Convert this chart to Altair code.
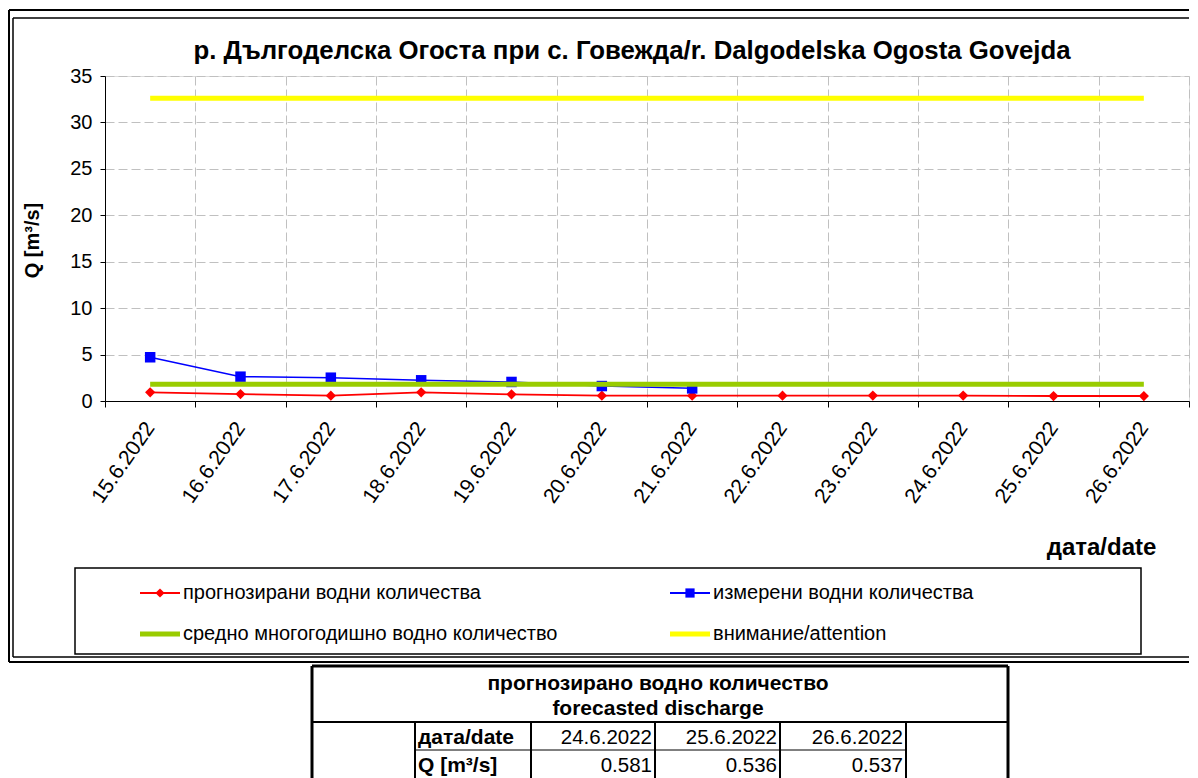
import altair as alt
import pandas as pd

# ---------------- data ----------------
dates = ["15.6.2022", "16.6.2022", "17.6.2022", "18.6.2022", "19.6.2022", "20.6.2022",
         "21.6.2022", "22.6.2022", "23.6.2022", "24.6.2022", "25.6.2022", "26.6.2022"]
forecast = [0.93, 0.75, 0.57, 0.93, 0.72, 0.57, 0.57, 0.57, 0.58, 0.581, 0.536, 0.537]
measured = [4.71, 2.62, 2.51, 2.23, 2.05, 1.61, 1.36]
mean_q = 1.8
attention_q = 32.6

series = ["прогнозирани водни количества", "измерени водни количества",
          "средно многогодишно водно количество", "внимание/attention"]
colors = ["#ff0000", "#0000ff", "#99cc00", "#ffff00"]

title_text = "р. Дългоделска Огоста при с. Говежда/r. Dalgodelska Ogosta Govejda"
table_header = ["прогнозирано водно количество", "forecasted discharge"]
table_row_labels = ["дата/date", "Q [m³/s]"]
table_dates = dates[-3:]
table_values = forecast[-3:]

FONT = "Liberation Sans"
W, H = 1084, 325
RIGHT = 1084

# ---------------- main plot ----------------
df_f = pd.DataFrame({"date": dates, "value": forecast, "series": series[0]})
df_m = pd.DataFrame({"date": dates[:len(measured)], "value": measured, "series": series[1]})
df_c = pd.DataFrame({
    "date": [dates[0], dates[-1], dates[0], dates[-1]],
    "value": [mean_q, mean_q, attention_q, attention_q],
    "series": [series[2], series[2], series[3], series[3]],
})

x_enc = alt.X(
    "date:O", sort=dates, title="дата/date",
    scale=alt.Scale(type="band", domain=dates, paddingInner=0, paddingOuter=0),
    axis=alt.Axis(
        tickBand="extent", grid=True, gridDash=[9, 4], gridColor="#c0c0c0", gridWidth=1,
        domainColor="black", domainWidth=1, tickColor="black", tickSize=6,
        labelAngle=305, labelAlign="right", labelBaseline="middle", labelPadding=17,
        labelFontSize=21, labelColor="black", labelFont=FONT, labelOverlap=False,
        titleX=996, titleY=146, titleAlign="center", titleBaseline="middle",
        titleFontSize=24, titleFontWeight="bold", titleColor="black", titleFont=FONT,
    ),
)
y_enc = alt.Y(
    "value:Q", title="Q [m³/s]",
    scale=alt.Scale(domain=[0, 35], nice=False, zero=True),
    axis=alt.Axis(
        values=list(range(0, 36, 5)), grid=True, gridDash=[9, 4], gridColor="#c0c0c0",
        domainColor="black", tickColor="black", tickSize=5,
        labelFontSize=20, labelColor="black", labelPadding=8, labelFont=FONT,
        titleX=-73, titleY=164, titleAngle=270, titleAlign="center", titleBaseline="middle",
        titleFontSize=20, titleFontWeight="bold", titleColor="black", titleFont=FONT,
    ),
)
color_enc = alt.Color("series:N", scale=alt.Scale(domain=series, range=colors), legend=None)

red_line = alt.Chart(df_f).mark_line(strokeWidth=1.8).encode(x=x_enc, y=y_enc, color=color_enc)
red_pts = alt.Chart(df_f).mark_point(shape="diamond", filled=True, size=105, opacity=1).encode(
    x=x_enc, y=y_enc, color=color_enc)
blue_line = alt.Chart(df_m).mark_line(strokeWidth=1.5).encode(x=x_enc, y=y_enc, color=color_enc)
blue_pts = alt.Chart(df_m).mark_point(shape="square", filled=True, size=110, opacity=1).encode(
    x=x_enc, y=y_enc, color=color_enc)
const_lines = alt.Chart(df_c).mark_line(strokeWidth=5).encode(
    x=x_enc, y=y_enc, color=color_enc, detail="series:N")

main = alt.layer(red_line, red_pts, blue_line, blue_pts, const_lines)

# ---------------- legend (own scales) ----------------
leg_df = pd.DataFrame({"series": series, "col": [0, 1, 0, 1], "row": [0, 0, 1, 1]})
lx = alt.X("col:Q", scale=alt.Scale(domain=[0, 1], range=[35, 565]), axis=None)
ly = alt.Y("row:Q", scale=alt.Scale(domain=[0, 1], range=[517, 558]), axis=None)
leg_thin = alt.Chart(leg_df.iloc[:2]).mark_rule(x2Offset=40, strokeWidth=1.8).encode(
    x=lx, x2=alt.X2("col"), y=ly, color=color_enc)
leg_thick = alt.Chart(leg_df.iloc[2:]).mark_rule(x2Offset=40, strokeWidth=5).encode(
    x=lx, x2=alt.X2("col"), y=ly, color=color_enc)
leg_pts = alt.Chart(leg_df.iloc[:2]).mark_point(filled=True, opacity=1, xOffset=20, size=85).encode(
    x=lx, y=ly, color=color_enc,
    shape=alt.Shape("series:N", scale=alt.Scale(domain=series[:2], range=["diamond", "square"]),
                    legend=None))
leg_text = alt.Chart(leg_df).mark_text(align="left", baseline="middle", dx=43, fontSize=20,
                                       font=FONT, color="black").encode(x=lx, y=ly, text="series:N")
one = pd.DataFrame({"k": [0]})
leg_box = alt.Chart(one).mark_rect(fill=None, stroke="black", strokeWidth=1.5).encode(
    x=alt.value(-30), x2=alt.value(1036), y=alt.value(492), y2=alt.value(578))
legend = alt.layer(leg_box, leg_thin, leg_thick, leg_pts, leg_text)

# ---------------- table (own scales) ----------------
tx_scale = alt.Scale(domain=[0, 1, 2, 3, 4, 5, 6], range=[207, 310, 426, 550, 675, 801, 903])
ty_scale = alt.Scale(domain=[0, 4], range=[590, 702])

def tbl_rules(segs, width):
    d = pd.DataFrame(segs, columns=["c1", "c2", "r1", "r2"])
    return alt.Chart(d).mark_rule(color="black", strokeWidth=width).encode(
        x=alt.X("c1:Q", scale=tx_scale, axis=None), x2="c2",
        y=alt.Y("r1:Q", scale=ty_scale, axis=None), y2="r2")

t_thick = tbl_rules([[0, 6, 0, 0], [0, 0, 0, 4], [6, 6, 0, 4]], 3)
t_med = tbl_rules([[0, 6, 2, 2]] + [[c, c, 2, 4] for c in range(1, 6)], 2)
t_thin = tbl_rules([[1, 5, 3, 3]], 1)

hdr1_df = pd.DataFrame({"t": table_header[:1], "c": [3], "r": [0.5]})
hdr2_df = pd.DataFrame({"t": table_header[1:], "c": [3], "r": [1.5]})
lab_df = pd.DataFrame({"t": table_row_labels, "c": [1, 1], "r": [2.5, 3.5]})
val_df = pd.DataFrame({
    "t": table_dates + [f"{v:.3f}" for v in table_values],
    "c": [3, 4, 5, 3, 4, 5],
    "r": [2.5, 2.5, 2.5, 3.5, 3.5, 3.5],
})

def tbl_text(d, **kw):
    return alt.Chart(d).mark_text(baseline="middle", font=FONT, color="black", **kw).encode(
        x=alt.X("c:Q", scale=tx_scale, axis=None),
        y=alt.Y("r:Q", scale=ty_scale, axis=None), text="t:N")

t_hdr1 = tbl_text(hdr1_df, align="center", fontSize=21, fontWeight="bold", dy=4, dx=3)
t_hdr2 = tbl_text(hdr2_df, align="center", fontSize=21, fontWeight="bold", dy=1, dx=3)
t_lab = tbl_text(lab_df, align="left", fontSize=21, fontWeight="bold", dx=3, dy=2)
t_val = tbl_text(val_df, align="right", fontSize=20.5, dx=-3, dy=2)
table = alt.layer(t_thick, t_med, t_thin, t_hdr1, t_hdr2, t_lab, t_val)

# ---------------- frame and title ----------------
def frame_rule(width, **enc):
    return alt.Chart(one).mark_rule(color="black", strokeWidth=width).encode(
        **{k: alt.value(v) for k, v in enc.items()})

frame = alt.layer(
    frame_rule(2, x=-96, x2=RIGHT, y=-66),
    frame_rule(2, x=-96, y=-66, y2=586),
    frame_rule(2, x=-96, x2=RIGHT, y=586),
    frame_rule(1.5, x=-92, x2=RIGHT, y=-58),
    frame_rule(1.5, x=-92, y=-58, y2=581),
    frame_rule(1.5, x=-92, x2=RIGHT, y=581),
)
title = alt.Chart(one).mark_text(text=title_text, fontSize=25.8, fontWeight="bold", font=FONT,
                                 align="center", baseline="middle", color="black").encode(
    x=alt.value(527), y=alt.value(-25))

chart = alt.layer(main, legend, table, frame, title).resolve_scale(
    x="independent", y="independent"
).properties(
    width=W, height=H, padding={"left": 0, "top": 1, "right": 0, "bottom": 0}
).configure_view(stroke=None).configure(font=FONT)

chart.save("out.html", embed_options={"renderer": "svg", "actions": False})
